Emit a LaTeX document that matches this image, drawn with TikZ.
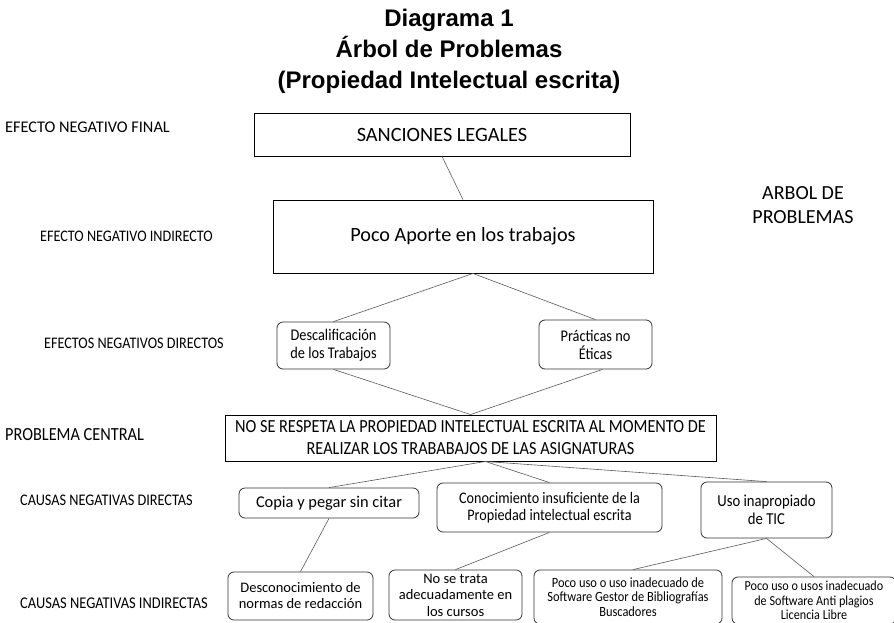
\documentclass[tikz,border=0pt]{standalone}
\usepackage{fontspec}
\setmainfont{Carlito}
\newfontfamily\titlefont{Liberation Sans}
\newfontfamily\narrowfont[FakeStretch=0.88]{Carlito}
\tikzset{
  caja/.style={draw=black,line width=0.9pt,inner sep=1pt,align=center},
  redonda/.style={draw=black!80,line width=0.8pt,rounded corners=6pt,inner sep=1pt,align=center},
  rotulo/.style={anchor=west,inner sep=0pt},
  rama/.style={draw=black!65,line width=0.6pt}
}
\begin{document}
\begin{tikzpicture}[x=1pt,y=-1pt]
\useasboundingbox (0,0) rectangle (894,622);
% titulo
\node[align=center,inner sep=0pt,font=\titlefont\bfseries\fontsize{24}{31}\selectfont] (titulo) at (449,51)
  {Diagrama 1\\ Árbol de Problemas\\ (Propiedad Intelectual escrita)};
% rotulos de la izquierda
\node[rotulo,font=\fontsize{16.3}{18}\selectfont] (r1) at (5,127) {EFECTO NEGATIVO FINAL};
\node[rotulo,font=\narrowfont\fontsize{16.1}{18}\selectfont] (r2) at (40,236) {EFECTO NEGATIVO INDIRECTO};
\node[rotulo,font=\narrowfont\fontsize{16.1}{18}\selectfont] (r3) at (44,343) {EFECTOS NEGATIVOS DIRECTOS};
\node[rotulo,font=\narrowfont\fontsize{18.5}{18}\selectfont] (r4) at (5,435) {PROBLEMA CENTRAL};
\node[rotulo,font=\narrowfont\fontsize{16.2}{18}\selectfont] (r5) at (20,500) {CAUSAS NEGATIVAS DIRECTAS};
\node[rotulo,font=\narrowfont\fontsize{16.4}{18}\selectfont] (r6) at (20,603) {CAUSAS NEGATIVAS INDIRECTAS};
\node[align=center,inner sep=0pt,font=\fontsize{20}{24}\selectfont] (arbol) at (803,205) {ARBOL DE\\ PROBLEMAS};
% efectos
\node[caja,minimum width=376pt,minimum height=43pt,font=\fontsize{20.3}{22}\selectfont] (sanc) at (442,134.5) {SANCIONES LEGALES};
\node[caja,minimum width=380pt,minimum height=73pt,font=\fontsize{20.2}{22}\selectfont] (aporte) at (463,236.5) {Poco Aporte en los trabajos};
\node[redonda,minimum width=113pt,minimum height=47pt,font=\narrowfont\fontsize{16.3}{18}\selectfont] (descal) at (333.5,345.5) {Descalificación\\ de los Trabajos};
\node[redonda,minimum width=113pt,minimum height=49pt,font=\narrowfont\fontsize{16.3}{18}\selectfont] (practicas) at (595.5,344.5) {Prácticas no\\ Éticas};
% problema central
\node[caja,minimum width=491pt,minimum height=46pt,font=\narrowfont\fontsize{18.5}{22}\selectfont] (central) at (470.5,438) {NO SE RESPETA LA PROPIEDAD INTELECTUAL ESCRITA AL MOMENTO DE\\ REALIZAR LOS TRABABAJOS DE LAS ASIGNATURAS};
% causas directas
\node[redonda,minimum width=180pt,minimum height=30pt,font=\fontsize{16.4}{19}\selectfont] (copia) at (329,503) {Copia y pegar sin citar};
\node[redonda,minimum width=225pt,minimum height=49pt,font=\narrowfont\fontsize{16.1}{17}\selectfont] (conoc) at (549.5,507.5) {Conocimiento insuficiente de la\\ Propiedad intelectual escrita};
\node[redonda,minimum width=131pt,minimum height=56pt,font=\narrowfont\fontsize{16.7}{18}\selectfont] (uso) at (766.5,510) {Uso inapropiado\\ de TIC};
% causas indirectas
\node[redonda,minimum width=145pt,minimum height=48pt,font=\fontsize{14.5}{16}\selectfont] (descon) at (300.5,596) {Desconocimiento de\\ normas de redacción};
\node[redonda,minimum width=133pt,minimum height=50pt,font=\fontsize{14.5}{16.5}\selectfont] (notrata) at (455.5,595) {No se trata\\ adecuadamente en\\ los cursos};
\node[redonda,minimum width=188pt,minimum height=54pt,font=\narrowfont\fontsize{14.1}{14.5}\selectfont] (poco1) at (628,597) {Poco uso o uso inadecuado de\\ Software Gestor de Bibliografías\\ Buscadores};
\node[redonda,minimum width=164pt,minimum height=47pt,font=\narrowfont\fontsize{13.8}{14.5}\selectfont] (poco2) at (814,600.5) {Poco uso o usos inadecuado\\ de Software Anti plagios\\ Licencia Libre};
% ramas
\draw[rama] (sanc.south) -- (aporte.north);
\draw[rama] ([xshift=10pt]aporte.south) -- (descal.north);
\draw[rama] ([xshift=10pt]aporte.south) -- (practicas.north);
\draw[rama] (descal.south) -- (central.north);
\draw[rama] ([xshift=7pt]practicas.south) -- (central.north);
\draw[rama] ([xshift=15pt]central.south) -- (copia.north);
\draw[rama] ([xshift=15pt]central.south) -- (conoc.north);
\draw[rama] ([xshift=15pt]central.south) -- (uso.north);
\draw[rama] (copia.south) -- (descon.north);
\draw[rama] (conoc.south) -- (notrata.north);
\draw[rama] (uso.south) -- ([xshift=5pt]poco1.north);
\draw[rama] (uso.south) -- (poco2.north);
\end{tikzpicture}
\end{document}
